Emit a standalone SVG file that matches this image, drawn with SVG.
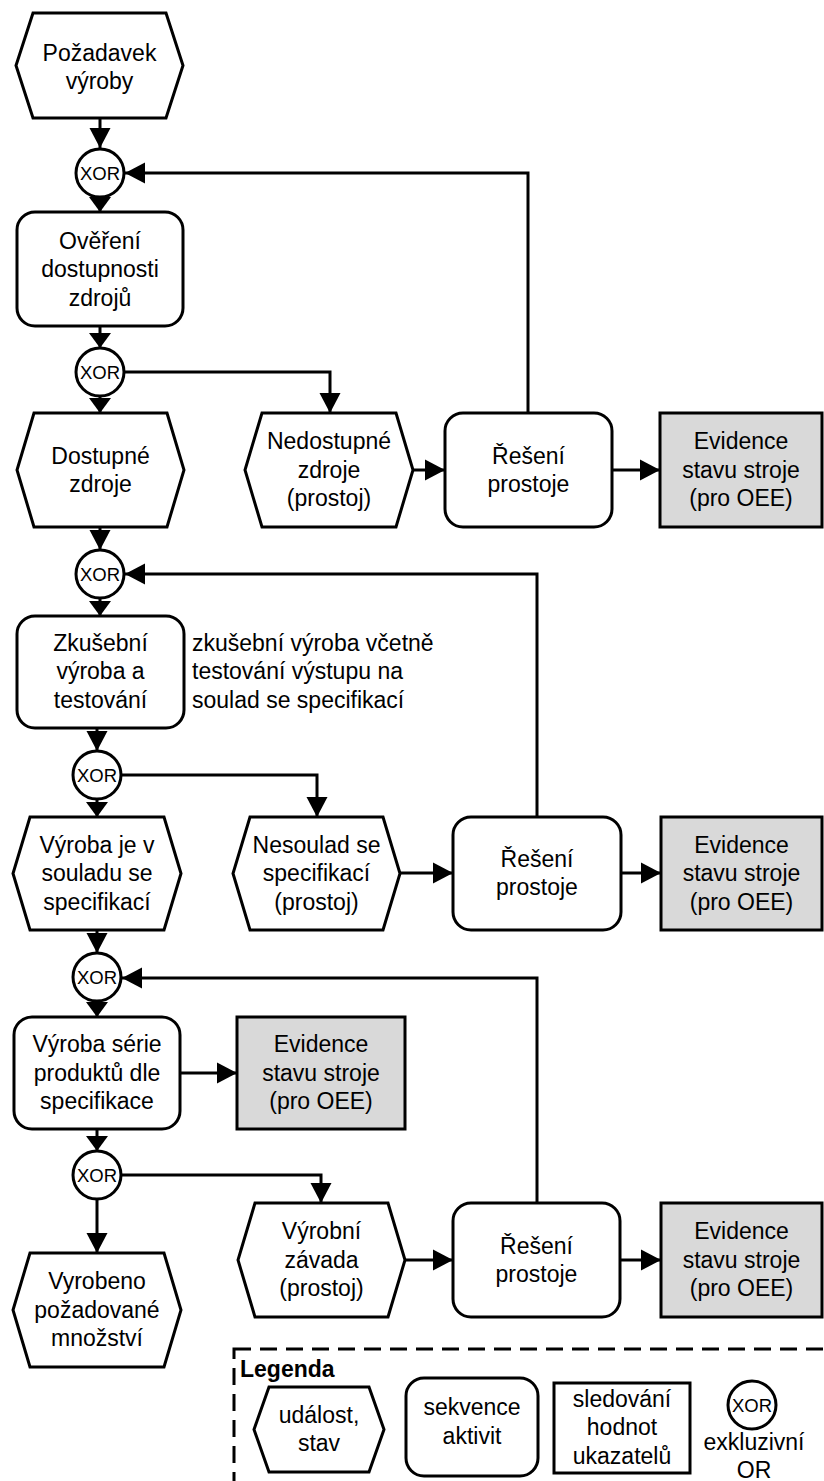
<svg xmlns="http://www.w3.org/2000/svg" width="824" height="1481" viewBox="0 0 824 1481">
<defs>
<marker id="arr" markerUnits="userSpaceOnUse" markerWidth="20" markerHeight="22" refX="20" refY="10.5" orient="auto" overflow="visible"><path d="M0,0 L20,10.5 L0,21 z" fill="#000"/></marker>
<marker id="arrS" markerUnits="userSpaceOnUse" markerWidth="15" markerHeight="22" refX="15" refY="11" orient="auto" overflow="visible"><path d="M0,0 L15,11 L0,22 z" fill="#000"/></marker>
<style>
.n{fill:#fff;stroke:#000;stroke-width:3;stroke-linejoin:miter}
.g{fill:#d9d9d9;stroke:#000;stroke-width:3}
.c{fill:none;stroke:#000;stroke-width:3;marker-end:url(#arr)}
.s{marker-end:url(#arrS)}
text{font-family:"Liberation Sans",Arial,sans-serif;font-size:23px;fill:#000}
.t{text-anchor:middle}
.x{font-size:18.5px;text-anchor:middle}
.b{font-weight:bold}
</style>
</defs>
<rect width="824" height="1481" fill="#fff"/>
<g id="connectors">
<path class="c" d="M100,118 V148"/>
<path class="c s" d="M100,190 V212"/>
<path class="c s" d="M100,326 V348"/>
<path class="c s" d="M100,390 V413"/>
<path class="c" d="M110,372 H330 V413"/>
<path class="c" d="M413,470 H445"/>
<path class="c" d="M612,470 H660"/>
<path class="c" d="M528,413 V173 H125"/>
<path class="c" d="M100,527 V550"/>
<path class="c s" d="M100,590 V616"/>
<path class="c" d="M97,728 V751"/>
<path class="c s" d="M97,790 V817"/>
<path class="c" d="M110,775 H317 V817"/>
<path class="c" d="M400,873 H453"/>
<path class="c" d="M621,873 H661"/>
<path class="c" d="M537,817 V574 H125"/>
<path class="c" d="M97,930 V953"/>
<path class="c s" d="M97,990 V1017"/>
<path class="c" d="M180,1073 H237"/>
<path class="c s" d="M97,1129 V1151"/>
<path class="c" d="M110,1175 H321 V1203"/>
<path class="c" d="M97,1190 V1253"/>
<path class="c" d="M405,1260 H453"/>
<path class="c" d="M620,1260 H661"/>
<path class="c" d="M537,1203 V978 H122"/>
</g>
<g id="n_pozadavek">
<polygon class="n" points="33,13 166,13 183,65.5 166,118 33,118 16,65.5"/>
<text class="t" x="99.5" y="61">Požadavek</text>
<text class="t" x="99.5" y="89">výroby</text>
</g>
<g id="xor1"><circle class="n" cx="100" cy="173" r="24"/><text class="x" x="100" y="179.5">XOR</text></g>
<g id="n_overeni">
<rect class="n" x="17" y="212" width="166" height="114" rx="18"/>
<text class="t" x="100" y="248.5">Ověření</text>
<text class="t" x="100" y="277">dostupnosti</text>
<text class="t" x="100" y="305.5">zdrojů</text>
</g>
<g id="xor2"><circle class="n" cx="100" cy="372" r="24"/><text class="x" x="100" y="378.5">XOR</text></g>
<g id="n_dostupne">
<polygon class="n" points="34,413 167,413 184,470 167,527 34,527 17,470"/>
<text class="t" x="100.5" y="463.5">Dostupné</text>
<text class="t" x="100.5" y="491.5">zdroje</text>
</g>
<g id="n_nedostupne">
<polygon class="n" points="262,413 396,413 413,470 396,527 262,527 245,470"/>
<text class="t" x="329" y="449">Nedostupné</text>
<text class="t" x="329" y="477.5">zdroje</text>
<text class="t" x="329" y="506">(prostoj)</text>
</g>
<g id="n_reseni1">
<rect class="n" x="445" y="413" width="167" height="114" rx="18"/>
<text class="t" x="528.5" y="463.5">Řešení</text>
<text class="t" x="528.5" y="491.5">prostoje</text>
</g>
<g id="n_evidence1">
<rect class="g" x="660" y="413" width="162" height="114"/>
<text class="t" x="741" y="449">Evidence</text>
<text class="t" x="741" y="477.5">stavu stroje</text>
<text class="t" x="741" y="506">(pro OEE)</text>
</g>
<g id="xor3"><circle class="n" cx="100" cy="574" r="24"/><text class="x" x="100" y="580.5">XOR</text></g>
<g id="n_zkusebni">
<rect class="n" x="17" y="616" width="167" height="112" rx="18"/>
<text class="t" x="100.5" y="650.5">Zkušební</text>
<text class="t" x="100.5" y="679">výroba a</text>
<text class="t" x="100.5" y="707.5">testování</text>
</g>
<g id="note">
<text x="192" y="650.5">zkušební výroba včetně</text>
<text x="192" y="679">testování výstupu na</text>
<text x="192" y="707.5">soulad se specifikací</text>
</g>
<g id="xor4"><circle class="n" cx="97" cy="775" r="24"/><text class="x" x="97" y="781.5">XOR</text></g>
<g id="n_vyroba_soulad">
<polygon class="n" points="30,817 164,817 181,873.5 164,930 30,930 13,873.5"/>
<text class="t" x="97" y="852.5">Výroba je v</text>
<text class="t" x="97" y="881">souladu se</text>
<text class="t" x="97" y="909.5">specifikací</text>
</g>
<g id="n_nesoulad">
<polygon class="n" points="250,817 383,817 400,873.5 383,930 250,930 233,873.5"/>
<text class="t" x="316.5" y="852.5">Nesoulad se</text>
<text class="t" x="316.5" y="881">specifikací</text>
<text class="t" x="316.5" y="909.5">(prostoj)</text>
</g>
<g id="n_reseni2">
<rect class="n" x="453" y="817" width="168" height="113" rx="18"/>
<text class="t" x="537" y="867">Řešení</text>
<text class="t" x="537" y="895">prostoje</text>
</g>
<g id="n_evidence2">
<rect class="g" x="661" y="817" width="161" height="113"/>
<text class="t" x="741.5" y="852.5">Evidence</text>
<text class="t" x="741.5" y="881">stavu stroje</text>
<text class="t" x="741.5" y="909.5">(pro OEE)</text>
</g>
<g id="xor5"><circle class="n" cx="97" cy="977" r="24"/><text class="x" x="97" y="983.5">XOR</text></g>
<g id="n_serie">
<rect class="n" x="14" y="1017" width="166" height="112" rx="18"/>
<text class="t" x="97" y="1052">Výroba série</text>
<text class="t" x="97" y="1080.5">produktů dle</text>
<text class="t" x="97" y="1109">specifikace</text>
</g>
<g id="n_evidence_mid">
<rect class="g" x="237" y="1017" width="168" height="112"/>
<text class="t" x="321" y="1052">Evidence</text>
<text class="t" x="321" y="1080.5">stavu stroje</text>
<text class="t" x="321" y="1109">(pro OEE)</text>
</g>
<g id="xor6"><circle class="n" cx="97" cy="1175" r="24"/><text class="x" x="97" y="1181.5">XOR</text></g>
<g id="n_vyrobni_zavada">
<polygon class="n" points="255,1203 388,1203 405,1260 388,1317 255,1317 238,1260"/>
<text class="t" x="321.5" y="1239">Výrobní</text>
<text class="t" x="321.5" y="1267.5">závada</text>
<text class="t" x="321.5" y="1296">(prostoj)</text>
</g>
<g id="n_reseni3">
<rect class="n" x="453" y="1203" width="167" height="114" rx="18"/>
<text class="t" x="536.5" y="1253.5">Řešení</text>
<text class="t" x="536.5" y="1281.5">prostoje</text>
</g>
<g id="n_evidence3">
<rect class="g" x="661" y="1203" width="161" height="114"/>
<text class="t" x="741.5" y="1239">Evidence</text>
<text class="t" x="741.5" y="1267.5">stavu stroje</text>
<text class="t" x="741.5" y="1296">(pro OEE)</text>
</g>
<g id="n_vyrobeno">
<polygon class="n" points="30,1253 164,1253 181,1310 164,1367 30,1367 13,1310"/>
<text class="t" x="97" y="1289">Vyrobeno</text>
<text class="t" x="97" y="1317.5">požadované</text>
<text class="t" x="97" y="1346">množství</text>
</g>
<g id="legend">
<rect x="234" y="1349" width="650" height="200" fill="none" stroke="#000" stroke-width="3" stroke-dasharray="17 9"/>
<text class="b" x="240" y="1377">Legenda</text>
<polygon class="n" points="269,1387 369,1387 384,1429.5 369,1472 269,1472 254,1429.5"/>
<text class="t" x="319" y="1423">událost,</text>
<text class="t" x="319" y="1451">stav</text>
<rect class="n" x="406" y="1378" width="132" height="98" rx="18"/>
<text class="t" x="472" y="1415">sekvence</text>
<text class="t" x="472" y="1444">aktivit</text>
<rect class="n" x="554" y="1383" width="136" height="90"/>
<text class="t" x="622" y="1407">sledování</text>
<text class="t" x="622" y="1435">hodnot</text>
<text class="t" x="622" y="1464">ukazatelů</text>
<circle class="n" cx="752" cy="1405" r="24"/>
<text class="x" x="752" y="1411.5">XOR</text>
<text class="t" x="754" y="1450">exkluzivní</text>
<text class="t" x="754" y="1478">OR</text>
</g>
</svg>
